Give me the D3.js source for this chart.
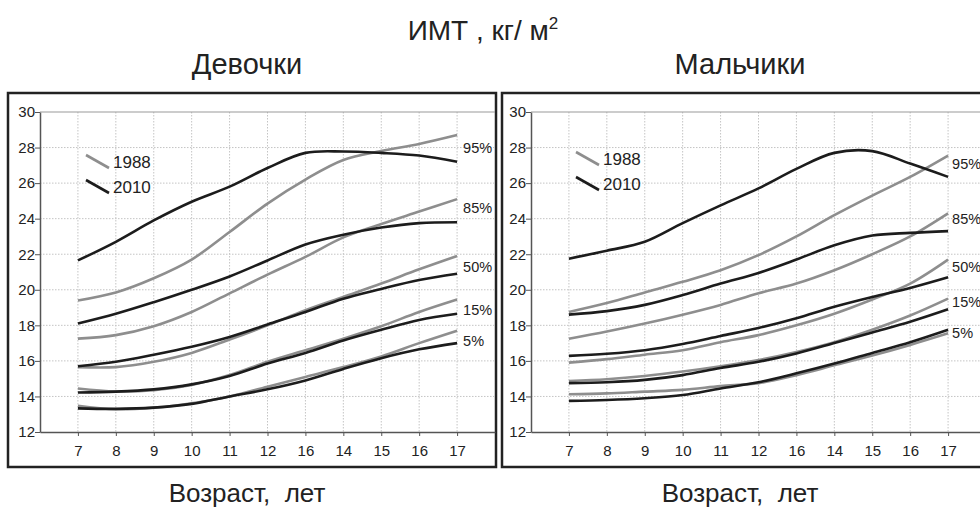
<!DOCTYPE html>
<html lang="ru">
<head>
<meta charset="utf-8">
<script src="https://cdn.jsdelivr.net/npm/d3@7"></script>
<style>
  body { margin: 0; background: #fff; }
  svg text { font-family: "Liberation Sans", Arial, sans-serif; fill: #222; }
</style>
</head>
<body>
<div id="chart"></div>
<script>
// ages on the x axis (labels as printed, incl. the "16" in place of 13)
const ages = [7, 8, 9, 10, 11, 12, 13, 14, 15, 16, 17];
const ageLabels = ["7", "8", "9", "10", "11", "12", "16", "14", "15", "16", "17"];
const yTicks = [12, 14, 16, 18, 20, 22, 24, 26, 28, 30];
const pctLabels = ["95%", "85%", "50%", "15%", "5%"];

// girls
const girls1988_95 = [19.4, 19.85, 20.65, 21.7, 23.25, 24.85, 26.2, 27.3, 27.8, 28.2, 28.7];
const girls2010_95 = [21.65, 22.7, 23.9, 24.95, 25.8, 26.85, 27.7, 27.78, 27.7, 27.55, 27.2];
const girls1988_85 = [17.25, 17.45, 17.95, 18.75, 19.8, 20.85, 21.85, 22.95, 23.7, 24.4, 25.1];
const girls2010_85 = [18.1, 18.65, 19.3, 20.0, 20.75, 21.65, 22.55, 23.1, 23.5, 23.75, 23.8];
const girls1988_50 = [15.65, 15.65, 15.95, 16.45, 17.2, 18.0, 18.85, 19.6, 20.35, 21.15, 21.9];
const girls2010_50 = [15.7, 15.95, 16.35, 16.8, 17.35, 18.05, 18.75, 19.5, 20.05, 20.55, 20.9];
const girls1988_15 = [14.45, 14.28, 14.35, 14.65, 15.2, 15.95, 16.6, 17.25, 17.95, 18.75, 19.45];
const girls2010_15 = [14.22, 14.27, 14.4, 14.68, 15.15, 15.85, 16.45, 17.15, 17.75, 18.3, 18.65];
const girls1988_5 = [13.48, 13.28, 13.37, 13.62, 14.0, 14.55, 15.1, 15.65, 16.25, 17.0, 17.7];
const girls2010_5 = [13.33, 13.3, 13.37, 13.58, 14.0, 14.4, 14.9, 15.55, 16.15, 16.65, 17.0];

// boys
const boys1988_95 = [18.75, 19.25, 19.85, 20.45, 21.1, 21.95, 23.0, 24.2, 25.3, 26.35, 27.55];
const boys2010_95 = [21.75, 22.2, 22.7, 23.75, 24.75, 25.7, 26.8, 27.7, 27.8, 27.1, 26.35];
const boys1988_85 = [17.25, 17.65, 18.1, 18.6, 19.15, 19.8, 20.35, 21.1, 22.0, 23.0, 24.3];
const boys2010_85 = [18.6, 18.8, 19.15, 19.7, 20.35, 20.95, 21.7, 22.5, 23.05, 23.2, 23.3];
const boys1988_50 = [15.9, 16.1, 16.35, 16.6, 17.05, 17.45, 18.0, 18.65, 19.45, 20.35, 21.7];
const boys2010_50 = [16.28, 16.4, 16.6, 16.95, 17.4, 17.85, 18.4, 19.05, 19.6, 20.1, 20.7];
const boys1988_15 = [14.87, 14.97, 15.15, 15.4, 15.7, 16.05, 16.5, 17.05, 17.75, 18.55, 19.5];
const boys2010_15 = [14.75, 14.8, 14.93, 15.2, 15.6, 15.95, 16.42, 17.0, 17.6, 18.2, 18.9];
const boys1988_5 = [14.12, 14.17, 14.27, 14.37, 14.58, 14.75, 15.2, 15.75, 16.3, 16.9, 17.55];
const boys2010_5 = [13.75, 13.8, 13.9, 14.08, 14.45, 14.8, 15.3, 15.85, 16.45, 17.05, 17.75];

// where the percentile labels sit (in BMI units)
const girlsLabelAt = [28.0, 24.6, 21.3, 18.85, 17.1];
const boysLabelAt = [27.1, 24.0, 21.3, 19.3, 17.6];

const W = 980, H = 507;
const svg = d3.select("#chart").append("svg")
    .attr("width", W).attr("height", H);

const plotTop = 112, plotH = 320, plotW = 455;
const y = d3.scaleLinear().domain([12, 30]).range([plotTop + plotH, plotTop]);

const colOld = "#8e8e8e", colNew = "#1c1c1c";

function panel(opts) {
    const g = svg.append("g");
    const left = opts.left;
    // position of age i on the axis: slot i+1 out of 12
    const x = d3.scaleLinear().domain([0, 12]).range([left, left + plotW]);

    // frame
    g.append("rect")
        .attr("x", opts.frame[0]).attr("y", 93)
        .attr("width", opts.frame[1] - opts.frame[0]).attr("height", 374)
        .attr("fill", "none").attr("stroke", "#222").attr("stroke-width", 2.5);

    // grid
    g.selectAll(".vg").data(ages).join("line")
        .attr("x1", (d, i) => x(i + 1)).attr("x2", (d, i) => x(i + 1))
        .attr("y1", plotTop).attr("y2", plotTop + plotH)
        .attr("stroke", "#c4c4c4").attr("stroke-dasharray", "1.5,1.5");
    g.selectAll(".hg").data(yTicks.slice(1, -1)).join("line")
        .attr("x1", left).attr("x2", left + plotW)
        .attr("y1", d => y(d)).attr("y2", d => y(d))
        .attr("stroke", "#c4c4c4").attr("stroke-dasharray", "1.5,1.5");
    g.append("line")
        .attr("x1", left).attr("x2", left + plotW)
        .attr("y1", plotTop).attr("y2", plotTop)
        .attr("stroke", "#999");

    // axes
    const xa = g.append("g")
        .attr("transform", `translate(0,${plotTop + plotH})`)
        .call(d3.axisBottom(x).tickValues(d3.range(1, 12))
            .tickFormat(i => ageLabels[i - 1]).tickSize(4).tickSizeOuter(0));
    xa.select(".domain").attr("stroke", "#555").attr("stroke-width", 1.5);
    xa.selectAll(".tick line").attr("stroke", "#555");
    xa.selectAll("text").attr("font-size", 15).attr("dy", "1.15em").attr("fill", "#222");

    const ya = g.append("g")
        .attr("transform", `translate(${left},0)`)
        .call(d3.axisLeft(y).tickValues(yTicks).tickSize(5).tickSizeOuter(0));
    ya.select(".domain").attr("stroke", "#555").attr("stroke-width", 1.5);
    ya.selectAll(".tick line").attr("stroke", "#555");
    ya.selectAll("text").attr("font-size", 15).attr("x", opts.yLabX).attr("fill", "#222");

    // curves
    const line = d3.line()
        .x((d, i) => x(i + 1))
        .y(d => y(d))
        .curve(d3.curveCatmullRom.alpha(0.5));
    opts.old.forEach(s => {
        g.append("path").attr("d", line(s)).attr("fill", "none")
            .attr("stroke", colOld).attr("stroke-width", 2.6);
    });
    opts.neu.forEach(s => {
        g.append("path").attr("d", line(s)).attr("fill", "none")
            .attr("stroke", colNew).attr("stroke-width", 2.6);
    });

    // percentile labels
    g.selectAll(".pl").data(pctLabels).join("text")
        .attr("x", x(11) + opts.labDx)
        .attr("y", (d, i) => y(opts.labelAt[i]))
        .attr("dy", "0.35em")
        .attr("font-size", 14.5)
        .text(d => d);

    // legend
    const lg = g.append("g").attr("transform", `translate(${opts.legend[0]},${opts.legend[1]})`);
    [["1988", colOld], ["2010", colNew]].forEach((e, i) => {
        lg.append("line")
            .attr("x1", 0).attr("y1", i * 25)
            .attr("x2", 23).attr("y2", i * 25 + 13)
            .attr("stroke", e[1]).attr("stroke-width", 2.6);
        lg.append("text")
            .attr("x", 27).attr("y", i * 25 + 7).attr("dy", "0.35em")
            .attr("font-size", 17).text(e[0]);
    });

    // titles
    svg.append("text")
        .attr("x", opts.cx).attr("y", 74).attr("text-anchor", "middle")
        .attr("font-size", 29).text(opts.title);
    svg.append("text")
        .attr("x", opts.cx).attr("y", 502).attr("text-anchor", "middle")
        .attr("font-size", 26).attr("xml:space", "preserve").text("Возраст,  лет");
}

panel({
    left: 40, frame: [8, 496], yLabX: -5, labDx: 6, cx: 247,
    title: "Девочки",
    old: [girls1988_95, girls1988_85, girls1988_50, girls1988_15, girls1988_5],
    neu: [girls2010_95, girls2010_85, girls2010_50, girls2010_15, girls2010_5],
    labelAt: girlsLabelAt, legend: [86, 155]
});
panel({
    left: 531, frame: [502, 990], yLabX: -5, labDx: 4, cx: 740,
    title: "Мальчики",
    old: [boys1988_95, boys1988_85, boys1988_50, boys1988_15, boys1988_5],
    neu: [boys2010_95, boys2010_85, boys2010_50, boys2010_15, boys2010_5],
    labelAt: boysLabelAt, legend: [576, 152]
});

// main title
const t = svg.append("text")
    .attr("x", 483).attr("y", 40).attr("text-anchor", "middle")
    .attr("font-size", 28);
t.append("tspan").text("ИМТ , кг/ м");
t.append("tspan").attr("dy", -11).attr("font-size", 17).text("2");
</script>
</body>
</html>
